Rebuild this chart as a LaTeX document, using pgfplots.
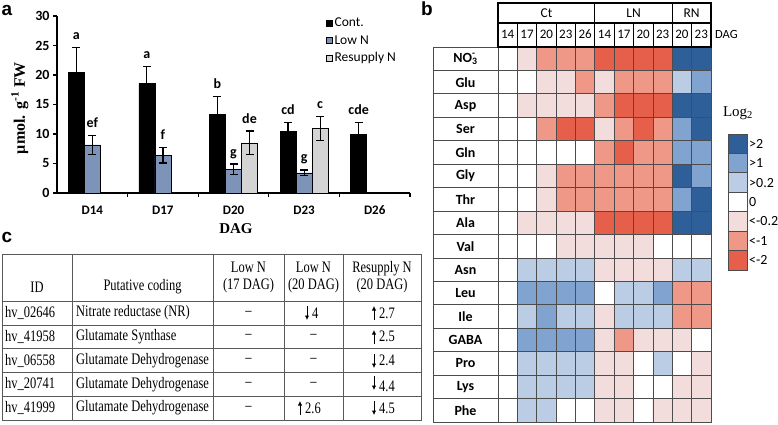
\documentclass[border=0pt]{standalone}
\usepackage{fontspec}
\setmainfont{Liberation Serif}
\newfontfamily\calibri{Carlito}
\newfontfamily\narrowserif[FakeStretch=0.78]{Liberation Serif}
\newfontfamily\arialfont{Liberation Sans}
\usepackage{pgfplots}
\pgfplotsset{compat=1.18}
\usetikzlibrary{arrows.meta}

\definecolor{lowN}{RGB}{125,148,184}
\definecolor{resN}{RGB}{212,212,212}
\definecolor{hmA}{RGB}{230,95,75}
\definecolor{hmB}{RGB}{239,152,135}
\definecolor{hmC}{RGB}{243,221,220}
\definecolor{hmE}{RGB}{186,205,229}
\definecolor{hmF}{RGB}{128,163,207}
\definecolor{hmG}{RGB}{47,95,153}
\newcommand{\fs}[1]{\fontsize{#1bp}{#1bp}\selectfont}
\tikzset{lab/.style={anchor=base, font=\calibri\bfseries\fs{14}, inner sep=0pt, yshift=8bp}}

\begin{document}
\begin{tikzpicture}[x=1bp,y=1bp]
\path[use as bounding box] (0,0) rectangle (778,424);

% ---------------- panel a: bars
\begin{axis}[
  at={(57bp,231bp)}, anchor=south west, scale only axis,
  width=353bp, height=177bp,
  ybar,
  xmin=-0.5, xmax=4.5, ymin=0, ymax=30,
  axis x line*=bottom, axis y line*=left,
  axis line style={line width=1.6bp},
  ytick={0,5,...,30},
  xtick={0.5,1.5,...,4.5}, xticklabels={},
  extra x ticks={0,1,2,3,4},
  extra x tick labels={D14,D17,D20,D23,D26},
  extra x tick style={major tick length=0pt},
  tick align=outside, major tick length=4bp,
  tick style={line width=1.2bp, black},
  /pgf/number format/assume math mode=true,
  yticklabel style={font=\calibri\bfseries\fs{14}},
  xticklabel style={font=\calibri\bfseries\fs{13}, yshift=-9.5bp},
  ylabel={µmol. g\textsuperscript{-1} FW},
  ylabel style={font=\bfseries\fs{16}, at={(axis description cs:-0.105,0.48)}, anchor=center},
  xlabel={DAG},
  xlabel style={font=\bfseries\fs{15}, at={(axis description cs:0.507,-0.203)}, anchor=center},
  legend style={at={(0.762,1.0)}, anchor=north west, draw=none, fill=none,
    font=\calibri\fs{13.5}, row sep=3bp, inner sep=0pt},
  legend cell align=left,
  legend image code/.code={\draw[#1] (0bp,-3bp) rectangle (6bp,3bp);},
  clip=false,
]
\addplot[ybar, bar width=0.227, bar shift=-0.227, fill=black, draw=black,
  error bars/.cd, y dir=both, y explicit,
  error bar style={line width=1.2bp, black},
  error mark options={rotate=90, mark size=4bp, line width=1.2bp, black}]
  table[x=x, y=y, y error=e] {
x y e
0 20.5 4.2
1 18.6 2.9
2 13.3 3.1
3 10.5 1.4
4 9.9 2.0
};
\addlegendentry{Cont.}
\addplot[ybar, bar width=0.227, bar shift=0, fill=lowN, draw=black,
  error bars/.cd, y dir=both, y explicit,
  error bar style={line width=1.2bp, black},
  error mark options={rotate=90, mark size=4bp, line width=1.2bp, black}]
  table[x=x, y=y, y error=e] {
x y e
0 8.15 1.6
1 6.4 1.3
2 4.0 0.9
3 3.4 0.5
};
\addlegendentry{Low N}
\addplot[ybar, bar width=0.227, bar shift=0.227, fill=resN, draw=black,
  error bars/.cd, y dir=both, y explicit,
  error bar style={line width=1.2bp, black},
  error mark options={rotate=90, mark size=4bp, line width=1.2bp, black}]
  table[x=x, y=y, y error=e] {
x y e
2 8.5 2.0
3 10.9 2.0
};
\addlegendentry{Resupply N}
\node[lab] at (axis cs:-0.227,24.7) {a};
\node[lab] at (axis cs:0,9.75) {ef};
\node[lab] at (axis cs:0.773,21.5) {a};
\node[lab] at (axis cs:1,7.7) {f};
\node[lab] at (axis cs:1.773,16.4) {b};
\node[lab] at (axis cs:2,4.9) {g};
\node[lab] at (axis cs:2.227,10.5) {de};
\node[lab] at (axis cs:2.773,11.9) {cd};
\node[lab] at (axis cs:3,3.9) {g};
\node[lab] at (axis cs:3.227,12.9) {c};
\node[lab] at (axis cs:3.773,11.9) {cde};
\end{axis}

% ---------------- panel b: heatmap
\begin{axis}[
  at={(498bp,2bp)}, anchor=south west, scale only axis,
  width=213bp, height=375bp,
  xmin=-0.5, xmax=10.5, ymin=-0.5, ymax=15.5, y dir=reverse,
  xtick={-0.5,0.5,...,10.5}, ytick={-0.5,0.5,...,15.5},
  xticklabels={}, yticklabels={},
  major tick length=0pt,
  grid=major, major grid style={line width=0.8bp, black!70},
  axis on top,
  axis line style={line width=0.8bp, black!70},
  colormap={hm}{rgb255=(230,95,75) rgb255=(239,152,135) rgb255=(243,221,220)
    rgb255=(255,255,255) rgb255=(186,205,229) rgb255=(128,163,207) rgb255=(47,95,153)},
  colormap access=direct,
]
% index: 0 = <-2, 1 = <-1, 2 = <-0.2, 3 = 0, 4 = >0.2, 5 = >1, 6 = >2
\addplot[matrix plot*, mesh/cols=11, point meta=explicit] coordinates {
(0,0)[3] (1,0)[2] (2,0)[1] (3,0)[1] (4,0)[1] (5,0)[0] (6,0)[0] (7,0)[0] (8,0)[0] (9,0)[6] (10,0)[6]
(0,1)[3] (1,1)[3] (2,1)[2] (3,1)[2] (4,1)[1] (5,1)[2] (6,1)[1] (7,1)[1] (8,1)[1] (9,1)[4] (10,1)[5]
(0,2)[3] (1,2)[2] (2,2)[2] (3,2)[2] (4,2)[2] (5,2)[1] (6,2)[0] (7,2)[0] (8,2)[0] (9,2)[6] (10,2)[6]
(0,3)[3] (1,3)[3] (2,3)[1] (3,3)[0] (4,3)[0] (5,3)[2] (6,3)[1] (7,3)[0] (8,3)[1] (9,3)[5] (10,3)[6]
(0,4)[3] (1,4)[3] (2,4)[3] (3,4)[3] (4,4)[3] (5,4)[1] (6,4)[0] (7,4)[1] (8,4)[1] (9,4)[5] (10,4)[5]
(0,5)[3] (1,5)[3] (2,5)[2] (3,5)[1] (4,5)[1] (5,5)[1] (6,5)[1] (7,5)[1] (8,5)[1] (9,5)[6] (10,5)[5]
(0,6)[3] (1,6)[3] (2,6)[2] (3,6)[1] (4,6)[1] (5,6)[1] (6,6)[1] (7,6)[1] (8,6)[1] (9,6)[5] (10,6)[6]
(0,7)[3] (1,7)[2] (2,7)[2] (3,7)[2] (4,7)[2] (5,7)[0] (6,7)[0] (7,7)[0] (8,7)[0] (9,7)[6] (10,7)[6]
(0,8)[3] (1,8)[3] (2,8)[3] (3,8)[2] (4,8)[2] (5,8)[2] (6,8)[2] (7,8)[2] (8,8)[3] (9,8)[3] (10,8)[3]
(0,9)[3] (1,9)[4] (2,9)[4] (3,9)[4] (4,9)[4] (5,9)[2] (6,9)[2] (7,9)[2] (8,9)[2] (9,9)[4] (10,9)[4]
(0,10)[3] (1,10)[5] (2,10)[5] (3,10)[5] (4,10)[5] (5,10)[3] (6,10)[4] (7,10)[4] (8,10)[5] (9,10)[1] (10,10)[1]
(0,11)[3] (1,11)[4] (2,11)[5] (3,11)[4] (4,11)[4] (5,11)[2] (6,11)[4] (7,11)[4] (8,11)[4] (9,11)[1] (10,11)[1]
(0,12)[3] (1,12)[5] (2,12)[5] (3,12)[5] (4,12)[5] (5,12)[2] (6,12)[1] (7,12)[2] (8,12)[2] (9,12)[2] (10,12)[3]
(0,13)[3] (1,13)[4] (2,13)[4] (3,13)[4] (4,13)[4] (5,13)[2] (6,13)[2] (7,13)[3] (8,13)[4] (9,13)[3] (10,13)[2]
(0,14)[3] (1,14)[4] (2,14)[4] (3,14)[4] (4,14)[4] (5,14)[2] (6,14)[2] (7,14)[3] (8,14)[3] (9,14)[2] (10,14)[2]
(0,15)[3] (1,15)[4] (2,15)[4] (3,15)[3] (4,15)[3] (5,15)[2] (6,15)[2] (7,15)[3] (8,15)[2] (9,15)[2] (10,15)[2]
};
\end{axis}

% row label column
\draw[line width=0.8bp, draw=black!70] (433,2) rectangle (498,377);
\foreach \i in {1,...,15} \draw[line width=0.8bp, draw=black!70] (433,{377-23.4375*\i}) -- (498,{377-23.4375*\i});
\foreach \lab [count=\i from 0] in {NO\rlap{\textsuperscript{-}}\textsubscript{3},Glu,Asp,Ser,Gln,Gly,Thr,Ala,Val,Asn,Leu,Ile,GABA,Pro,Lys,Phe}
  \node[font=\calibri\bfseries\fs{14}] at (465.5,{377-23.4375*(\i+0.5)}) {\lab};

% header
\foreach \i in {1,...,10} \draw[line width=0.8bp] ({498+213/11*\i},377) -- ({498+213/11*\i},401);
\draw[line width=1.2bp] (498,377) rectangle (711,421);
\draw[line width=1.2bp] (498,401) -- (711,401);
\draw[line width=1.2bp] ({498+213/11*5},377) -- ({498+213/11*5},421);
\draw[line width=1.2bp] ({498+213/11*9},377) -- ({498+213/11*9},421);
\foreach \lab [count=\i from 0] in {14,17,20,23,26,14,17,20,23,20,23}
  \node[font=\calibri\fs{13}] at ({498+213/11*(\i+0.5)},389.5) {\lab};
\node[font=\calibri\fs{13.5}] at ({498+213/11*2.5},411) {Ct};
\node[font=\calibri\fs{13.5}] at ({498+213/11*7},411) {LN};
\node[font=\calibri\fs{13.5}] at ({498+213/11*10},411) {RN};
\node[font=\calibri\fs{12.5}, anchor=west, inner sep=0pt] at (715,390) {DAG};

% colour key
\node[font=\fs{15}] at (738,311) {Log\textsubscript{2}};
\foreach \c/\t [count=\i from 0] in {hmG/>2,hmF/>1,hmE/>0.2,white/0,hmC/<-0.2,hmB/<-1,hmA/<-2} {
  \draw[fill=\c, line width=0.8bp, draw=black!70] (728,{290-19.43*\i}) rectangle (747,{290-19.43*(\i+1)});
  \node[font=\calibri\fs{14}, anchor=west, inner sep=0pt] at (749,{290-19.43*(\i+0.5)}) {\t};
}

% ---------------- panel c: table
\begin{scope}[line width=0.9bp, draw=black!65]
\draw (2,4) rectangle (421,170);
\foreach \y in {123,99,76,52,28} \draw (2,\y) -- (421,\y);
\foreach \x in {72,213,284,343} \draw (\x,4) -- (\x,170);
\end{scope}
\begin{scope}[every node/.style={font=\narrowserif\fs{16}, inner sep=0pt}]
\node at (37,137) {ID};
\node at (142.5,137) {Putative coding};
\node[align=center] at (248.5,147) {Low N\\[1bp](17 DAG)};
\node[align=center] at (313.5,147) {Low N\\[1bp](20 DAG)};
\node[align=center] at (382,147) {Resupply N\\[1bp](20 DAG)};
\foreach \id/\cd [count=\i from 0] in {hv\_02646/Nitrate reductase (NR),hv\_41958/Glutamate Synthase,hv\_06558/Glutamate Dehydrogenase,hv\_20741/Glutamate Dehydrogenase,hv\_41999/Glutamate Dehydrogenase} {
  \node[anchor=west] at (5,{111-23.75*\i}) {\id};
  \node[anchor=west] at (76,{111-23.75*\i}) {\cd};
  \node at (248.5,{111-23.75*\i}) {\textendash};
}
\node at (313.5,87.25) {\textendash};
\node at (313.5,63.5) {\textendash};
\node at (313.5,39.75) {\textendash};
\node[anchor=west] at (312,111) {4};
\node[anchor=west] at (305,16) {2.6};
\node[anchor=west] at (379,111) {2.7};
\node[anchor=west] at (379,87.25) {2.5};
\node[anchor=west] at (379,63.5) {2.4};
\node[anchor=west] at (379,37.5) {4.4};
\node[anchor=west] at (379,16) {4.5};
\end{scope}
\begin{scope}[line width=0.8bp, -{Latex[length=4.5bp,width=4.5bp]}]
\draw (307,118) -- (307,104);
\draw (300,9) -- (300,23);
\draw (374,104) -- (374,118);
\draw (374,80) -- (374,94);
\draw (374,70) -- (374,56);
\draw (374,48) -- (374,34);
\draw (374,23) -- (374,9);
\end{scope}

% panel letters
\node[font=\arialfont\bfseries\fs{19}] at (7,414) {a};
\node[font=\arialfont\bfseries\fs{19}] at (427,415) {b};
\node[font=\arialfont\bfseries\fs{19}] at (7,187) {c};
\end{tikzpicture}
\end{document}
